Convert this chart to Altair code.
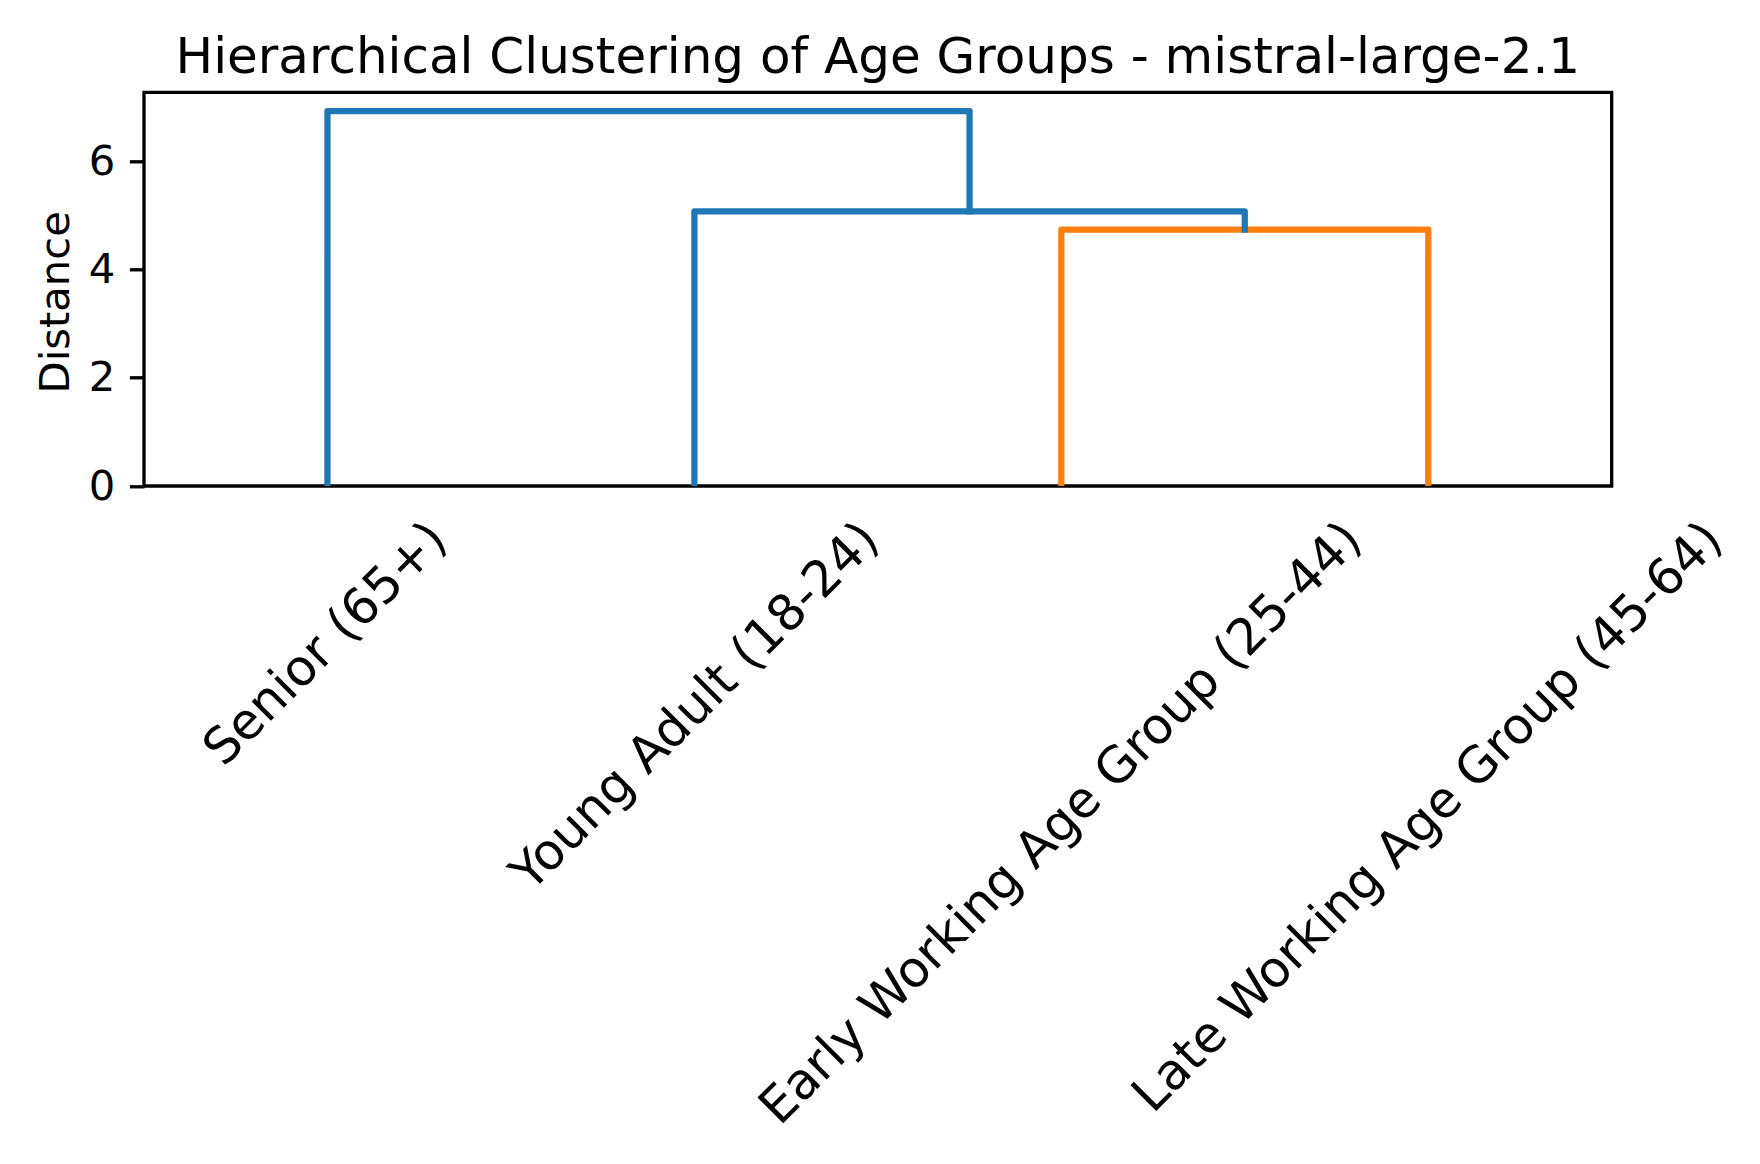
import altair as alt
import pandas as pd

# ---- data ----
leaf_labels = ["Senior (65+)", "Young Adult (18-24)",
               "Early Working Age Group (25-44)", "Late Working Age Group (45-64)"]
leaf_pos = [5, 15, 25, 35]
icoord = [[25, 25, 35, 35], [15, 15, 30, 30], [5, 5, 22.5, 22.5]]
dcoord = [[0, 4.736, 4.736, 0], [0, 5.07, 5.07, 4.736], [0, 6.925, 6.925, 5.07]]
link_colors = ["C1", "C0", "C0"]
y_ticks = [0, 2, 4, 6]

TITLE = "Hierarchical Clustering of Age Groups - mistral-large-2.1"

# ---- layout ----
W, H = 1467.7, 393.7
X_MAX = 40
Y_MAX = max(max(d) for d in dcoord) * 1.05
LEAF_FS = 50
TICK_FS = 41.7

# DejaVu Sans advance widths (em)
adv = {" ": 0.318, "(": 0.390, ")": 0.390, "+": 0.838, "-": 0.361,
       "A": 0.684, "E": 0.632, "G": 0.770, "L": 0.557, "S": 0.635, "W": 0.989, "Y": 0.611,
       "a": 0.613, "d": 0.635, "e": 0.615, "g": 0.635, "i": 0.278, "k": 0.579, "l": 0.278,
       "n": 0.634, "o": 0.612, "p": 0.635, "r": 0.411, "t": 0.392, "u": 0.634, "y": 0.592,
       "s": 0.521, "c": 0.550}
for ch in "0123456789":
    adv[ch] = 0.636


def text_len(s, fs):
    return sum(adv.get(ch, 0.6) for ch in s) * fs


rows = []
for i, (xs, ys, col) in enumerate(zip(icoord, dcoord, link_colors)):
    for j, (xv, yv) in enumerate(zip(xs, ys)):
        rows.append({"link": i, "step": j, "x": xv, "y": yv, "color": col})
links = pd.DataFrame(rows)

c = 0.35355
px_per_unit = W / X_MAX
lab_rows = []
for lab, p in zip(leaf_labels, leaf_pos):
    L = text_len(lab, LEAF_FS)
    off = c * (L + LEAF_FS) - 8.5
    lab_rows.append({"label": lab, "lx": p + off / px_per_unit})
labels = pd.DataFrame(lab_rows)

xscale = alt.Scale(domain=[0, X_MAX], nice=False, zero=False)

lines = alt.Chart(links).mark_line(
    strokeWidth=6.25, strokeJoin="round", strokeCap="square", clip=True
).encode(
    x=alt.X("x:Q", scale=xscale, axis=None),
    y=alt.Y("y:Q", scale=alt.Scale(domain=[0, Y_MAX], nice=False),
            axis=alt.Axis(title="Distance", values=y_ticks, format="d",
                          domain=False, grid=False,
                          tickSize=14.6, tickWidth=3.33, tickColor="black",
                          labelPadding=14.6, labelFontSize=TICK_FS, labelFont="DejaVu Sans",
                          labelColor="black", labelBaseline="middle",
                          titleFontSize=TICK_FS, titleFont="DejaVu Sans",
                          titleFontWeight="normal", titleColor="black",
                          titleBaseline="alphabetic", titlePadding=20, titleY=209.5)),
    detail="link:N",
    order="step:Q",
    color=alt.Color("color:N", scale=alt.Scale(domain=["C0", "C1"],
                                               range=["#1f77b4", "#ff7f0e"]),
                    legend=None),
)

texts = alt.Chart(labels).mark_text(
    font="DejaVu Sans", fontSize=LEAF_FS, angle=315, align="right",
    baseline="alphabetic", color="black"
).encode(
    x=alt.X("lx:Q", scale=xscale, axis=None),
    y=alt.value(542.1 - 92.3),
    text="label:N",
)

chart = alt.layer(lines, texts).properties(
    width=W, height=H,
    title=alt.TitleParams(TITLE, font="DejaVu Sans", fontSize=50, fontWeight="normal",
                          color="black", baseline="alphabetic", offset=24, dy=55,
                          anchor="middle", frame="group"),
    autosize=alt.AutoSizeParams(type="none"),
    padding={"left": 136, "top": 84.3, "right": 136, "bottom": 640},
).configure(
    background="white",
    view=alt.ViewConfig(stroke="black", strokeWidth=3.33),
)

chart.save("out.html", embed_options={"renderer": "svg", "actions": False})
